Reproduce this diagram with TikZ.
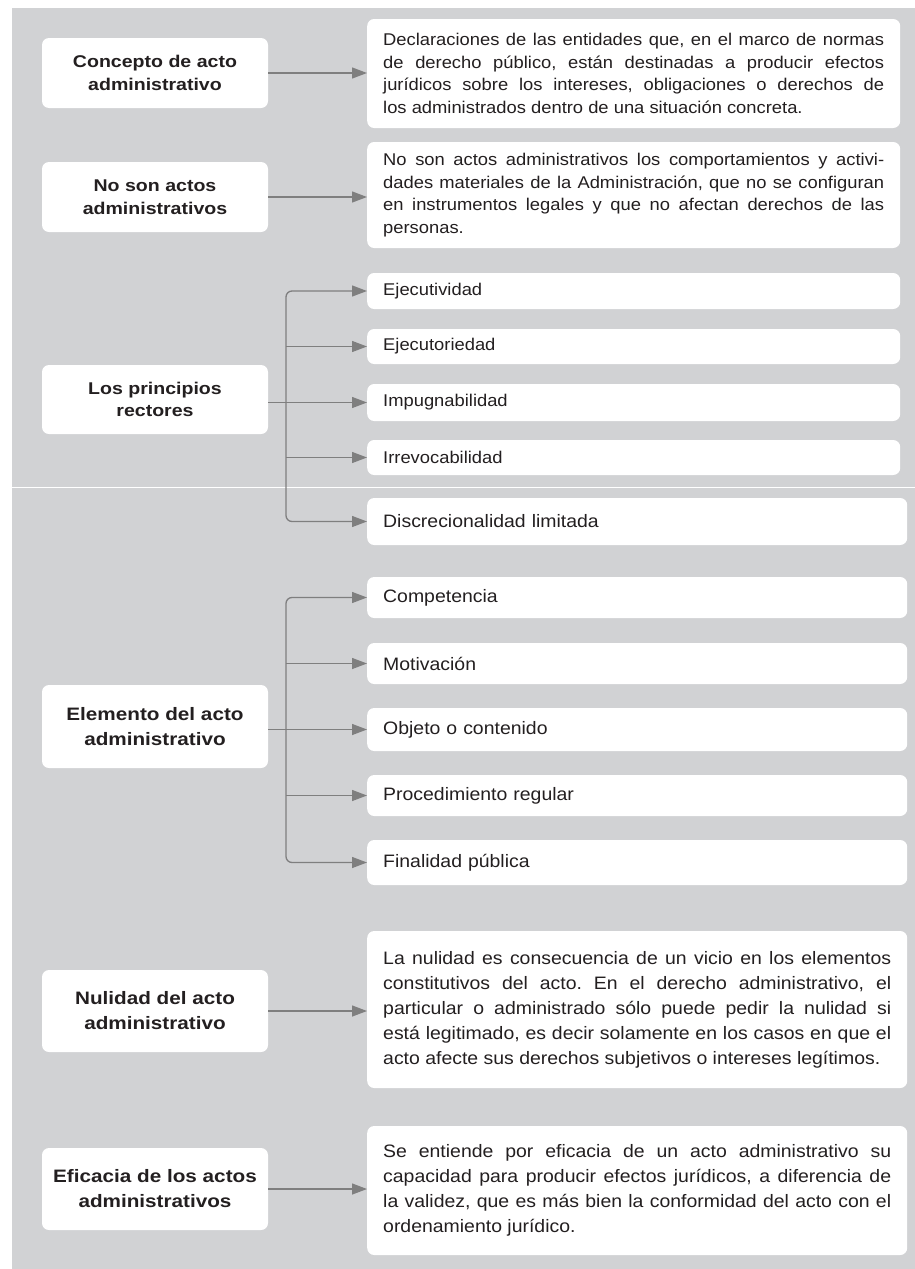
\documentclass[tikz,border=0pt]{standalone}
\usepackage{fontspec}
\setmainfont{Liberation Sans}[FakeStretch=1.08, BoldFeatures={FakeStretch=1.15}]
\usepackage{tikz}
\usetikzlibrary{arrows.meta}
\frenchspacing

\definecolor{fondo}{HTML}{D1D2D4}
\definecolor{gris}{HTML}{7F7F7F}
\definecolor{tinta}{HTML}{231F20}

\newcommand{\tamA}{\fontsize{17}{22.5}\selectfont}
\newcommand{\tamB}{\fontsize{18}{25}\selectfont}

\tikzset{
    caja/.style={fill=white, rounded corners=7pt, text=tinta, inner xsep=16pt, inner ysep=0pt},
    tema/.style={caja, inner xsep=4pt, minimum width=226pt, align=center, font=\bfseries#1},
    tema/.default=\tamA,
    detalle/.style={caja, anchor=west, text width=#1, align=justify},
    detalle/.default=501pt,
    rasgo/.style={caja, anchor=west, text width=#1, align=left},
    rasgo/.default=501pt,
    flecha/.style={draw=gris, line width=1.3pt, -{Triangle[length=15pt, width=11pt]}}
}

\begin{document}
\begin{tikzpicture}[x=1pt, y=-1pt, font=\tamA]

    \useasboundingbox (0,0) rectangle (915,1269);
    \fill[fondo] (12,8) rectangle (915,1269);
    \draw[white, line width=1pt] (12,487) -- (915,487);

    % Concepto and what is not an acto
    \node[tema, minimum height=70pt] (concepto) at (155,73) {Concepto de acto\\administrativo};
    \node[detalle, minimum height=109pt] (defconcepto) at (367,73.5) {Declaraciones de las entidades que, en el marco de normas\linebreak de derecho público, están destinadas a producir efectos\linebreak jurídicos sobre los intereses, obligaciones o derechos de\linebreak los administrados dentro de una situación concreta.};

    \node[tema, minimum height=70pt] (noson) at (155,197) {No son actos\\administrativos};
    \node[detalle, minimum height=106pt] (defnoson) at (367,195) {No son actos administrativos los comportamientos y activi-\linebreak dades materiales de la Administración, que no se configuran\linebreak en instrumentos legales y que no afectan derechos de las\linebreak personas.};

    % Principios rectores and its branches
    \node[tema, minimum height=69pt] (principios) at (155,399.5) {Los principios\\rectores};
    \node[rasgo, minimum height=36pt] (ejecutividad) at (367,291) {Ejecutividad};
    \node[rasgo, minimum height=35pt] (ejecutoriedad) at (367,346.5) {Ejecutoriedad};
    \node[rasgo, minimum height=37pt] (impug) at (367,402.5) {Impugnabilidad};
    \node[rasgo, minimum height=35pt] (irrevoc) at (367,457.5) {Irrevocabilidad};
    \node[rasgo=508pt, minimum height=47pt, font=\tamB] (discrec) at (367,521.5) {Discrecionalidad limitada};

    \begin{scope}[font=\tamB]

    % Elementos and its branches
    \node[tema=\tamB, minimum height=83pt] (elemento) at (155,726.5) {Elemento del acto\\administrativo};
    \node[rasgo=508pt, minimum height=41pt] (competencia) at (367,597.5) {Competencia};
    \node[rasgo=508pt, minimum height=41pt] (motivacion) at (367,663.5) {Motivación};
    \node[rasgo=508pt, minimum height=43pt] (objeto) at (367,729.5) {Objeto o contenido};
    \node[rasgo=508pt, minimum height=41pt] (procedimiento) at (367,795.5) {Procedimiento regular};
    \node[rasgo=508pt, minimum height=45pt] (finalidad) at (367,862.5) {Finalidad pública};

    % Nulidad and eficacia
    \node[tema=\tamB, minimum height=82pt] (nulidad) at (155,1011) {Nulidad del acto\\administrativo};
    \node[detalle=508pt, minimum height=157pt] (defnulidad) at (367,1009.5) {La nulidad es consecuencia de un vicio en los elementos\linebreak constitutivos del acto. En el derecho administrativo, el\linebreak particular o administrado sólo puede pedir la nulidad si\linebreak está legitimado, es decir solamente en los casos en que el\linebreak acto afecte sus derechos subjetivos o intereses legítimos.};

    \node[tema=\tamB, minimum height=82pt] (eficacia) at (155,1189) {Eficacia de los actos\\administrativos};
    \node[detalle=508pt, minimum height=129pt] (defeficacia) at (367,1190.5) {Se entiende por eficacia de un acto administrativo su\linebreak capacidad para producir efectos jurídicos, a diferencia de\linebreak la validez, que es más bien la conformidad del acto con el\linebreak ordenamiento jurídico.};

    \end{scope}

    % Arrows
    \draw[flecha] (concepto.east) -- (concepto.east -| defconcepto.west);
    \draw[flecha] (noson.east) -- (noson.east -| defnoson.west);
    \draw[flecha] (nulidad.east) -- (nulidad.east -| defnulidad.west);
    \draw[flecha] (eficacia.east) -- (eficacia.east -| defeficacia.west);

    \coordinate (ptronco) at (286,402.5);
    \draw[flecha] (principios.east |- impug.west) -- (impug.west);
    \draw[flecha, rounded corners=6pt] (ptronco) |- (ejecutividad.west);
    \draw[flecha, rounded corners=6pt] (ptronco) |- (discrec.west);
    \foreach \n in {ejecutoriedad, irrevoc}
        \draw[flecha] (ptronco |- \n.west) -- (\n.west);

    \coordinate (etronco) at (286,729.5);
    \draw[flecha] (elemento.east |- objeto.west) -- (objeto.west);
    \draw[flecha, rounded corners=6pt] (etronco) |- (competencia.west);
    \draw[flecha, rounded corners=6pt] (etronco) |- (finalidad.west);
    \foreach \n in {motivacion, procedimiento}
        \draw[flecha] (etronco |- \n.west) -- (\n.west);

\end{tikzpicture}
\end{document}
